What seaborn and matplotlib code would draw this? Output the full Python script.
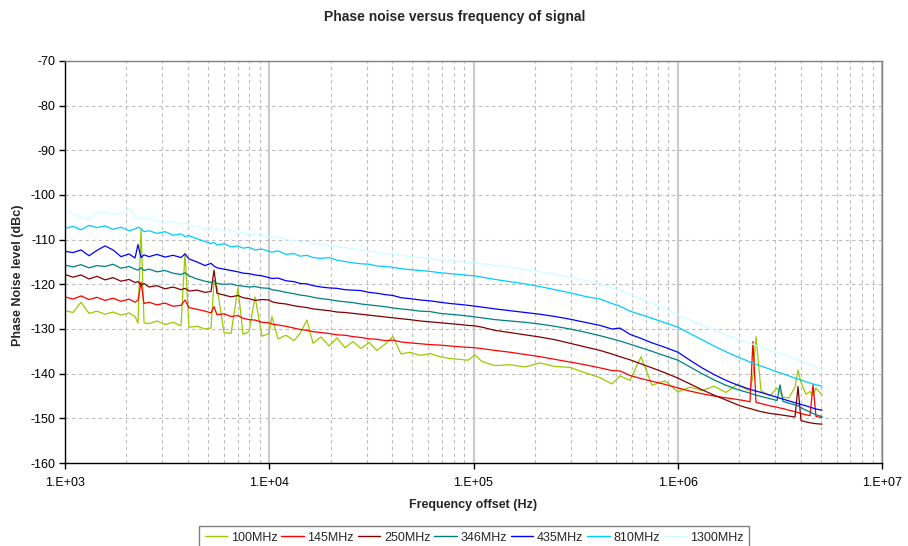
import numpy as np
import pandas as pd
import matplotlib
matplotlib.use("Agg")
import matplotlib.pyplot as plt
from matplotlib.ticker import LogLocator, FuncFormatter
import seaborn as sns

# ---------------- data ----------------
FREQ_HZ = [
    1000, 1094, 1198, 1311, 1434, 1570, 1718, 1880, 2058, 2202,
    2277, 2356, 2437, 2578, 2821, 3088, 3380, 3698, 3868, 4046,
    4430, 4847, 5186, 5364, 5548, 6003, 6496, 7031, 7437, 7960,
    8518, 9215, 9972, 10310, 11040, 12080, 13220, 14140, 15300, 16380,
    17920, 19610, 21460, 23490, 25700, 28130, 30780, 33690, 36870, 40350,
    44160, 48880, 54710, 61240, 68550, 76720, 85870, 93990, 101700, 110100,
    127400, 150900, 178700, 211700, 250600, 296900, 351600, 416400, 476500, 521600,
    583900, 660800, 747900, 866200, 1002800, 1148000, 1315000, 1505000, 1723000, 1972000,
    2159000, 2258000, 2335000, 2416000, 2556000, 2829000, 3062000, 3167000, 3276000, 3505000,
    3750000, 3879000, 4013000, 4245000, 4442000, 4594000, 4752000, 5085000,
]

SERIES = ["100MHz", "145MHz", "250MHz", "346MHz", "435MHz", "810MHz", "1300MHz"]
COLORS = ["#99CC00", "#FF0000", "#800000", "#008080", "#0000FF", "#00CCFF", "#CCFFFF"]

PN_100MHZ = [
    -125.9, -126.3, -124.0, -126.5, -126.0, -126.7, -126.2, -126.9, -126.4, -127.2,
    -128.7, -107.5, -128.6, -128.8, -128.2, -129.0, -128.5, -129.3, -113.0, -129.6,
    -129.4, -130.0, -129.8, -119.4, -120.5, -130.8, -131.0, -120.8, -131.2, -130.6,
    -122.8, -131.6, -131.0, -127.2, -132.2, -131.4, -132.6, -131.0, -128.0, -133.2,
    -131.8, -133.8, -132.0, -134.2, -132.8, -134.4, -133.0, -134.8, -133.4, -131.7,
    -135.6, -135.2, -135.9, -135.5, -136.2, -136.6, -136.8, -137.0, -135.8, -137.3,
    -138.2, -138.0, -138.5, -137.6, -138.4, -138.6, -139.8, -140.9, -142.3, -140.5,
    -141.5, -136.2, -142.6, -141.6, -144.1, -143.0, -143.8, -142.8, -144.2, -142.3,
    -143.5, -143.8, -140.5, -131.7, -143.8, -145.0, -143.2, -144.0, -145.3, -145.4,
    -143.0, -139.2, -142.0, -144.6, -144.0, -145.0, -143.2, -144.8,
]
PN_145MHZ = [
    -122.8, -123.3, -122.6, -123.4, -122.9, -123.6, -123.1, -123.8, -123.3, -124.0,
    -123.6, -119.5, -124.3, -124.0, -124.6, -124.2, -124.9, -124.7, -123.5, -125.2,
    -125.6, -126.0, -126.4, -125.0, -126.8, -126.6, -127.2, -127.0, -127.6, -127.9,
    -128.0, -128.5, -128.6, -128.9, -129.1, -129.4, -129.8, -130.1, -130.3, -130.6,
    -130.8, -131.0, -131.3, -131.4, -131.7, -131.9, -132.2, -132.3, -132.6, -132.5,
    -132.9, -133.1, -133.3, -133.5, -133.6, -133.8, -134.0, -134.1, -134.2, -134.4,
    -134.8, -135.2, -135.7, -136.2, -136.8, -137.4, -138.0, -138.7, -139.3, -139.4,
    -140.4, -141.1, -141.7, -142.4, -143.2, -143.9, -144.5, -145.0, -145.4, -145.8,
    -146.1, -146.3, -132.8, -146.4, -146.7, -147.2, -147.5, -147.7, -147.8, -148.2,
    -148.5, -148.7, -148.9, -149.2, -149.4, -142.5, -149.6, -149.8,
]
PN_250MHZ = [
    -117.8, -118.4, -117.9, -118.8, -118.2, -119.0, -118.5, -119.3, -118.9, -119.6,
    -119.4, -120.2, -119.8, -120.6, -120.3, -121.0, -120.6, -121.2, -120.9, -121.5,
    -121.3, -121.8, -121.6, -116.8, -122.0, -122.4, -122.8, -122.5, -123.0, -123.2,
    -123.6, -123.4, -123.5, -123.9, -124.2, -124.4, -124.8, -125.0, -125.2, -125.5,
    -125.7, -125.9, -126.2, -126.3, -126.5, -126.7, -126.9, -127.1, -127.3, -127.5,
    -127.7, -127.9, -128.2, -128.4, -128.6, -128.8, -129.0, -129.2, -129.3, -129.6,
    -130.3, -130.8, -131.3, -131.8, -132.4, -133.2, -134.0, -134.8, -135.6, -136.2,
    -136.9, -137.8, -138.7, -139.8, -141.0, -142.3, -143.6, -144.8, -145.9, -147.0,
    -147.6, -147.8, -148.0, -148.2, -148.5, -148.9, -149.1, -149.2, -149.3, -149.5,
    -149.7, -142.9, -150.5, -150.8, -151.0, -151.1, -151.2, -151.3,
]
PN_346MHZ = [
    -115.7, -116.1, -115.6, -116.3, -115.8, -116.0, -115.5, -116.4, -116.0, -116.6,
    -116.8, -116.3, -116.9, -116.6, -117.2, -116.9, -117.5, -117.8, -117.4, -118.1,
    -118.8, -119.3, -119.6, -119.2, -119.8, -120.0, -119.9, -120.3, -120.4, -120.6,
    -120.5, -120.8, -120.9, -121.2, -121.4, -121.8, -122.1, -122.4, -122.6, -122.9,
    -123.2, -123.4, -123.7, -123.9, -124.1, -124.4, -124.6, -124.8, -125.0, -125.3,
    -125.5, -125.7, -126.0, -126.1, -126.5, -126.7, -126.9, -127.1, -127.3, -127.5,
    -127.9, -128.2, -128.5, -128.9, -129.4, -130.0, -130.7, -131.5, -132.2, -132.7,
    -133.4, -134.2, -135.0, -136.0, -137.0, -138.5, -140.0, -141.4, -142.6, -143.6,
    -144.1, -144.4, -144.6, -144.8, -145.1, -145.6, -146.0, -142.5, -146.2, -146.6,
    -147.0, -147.2, -147.6, -148.2, -148.6, -148.9, -149.2, -149.6,
]
PN_435MHZ = [
    -112.6, -112.9, -112.3, -113.6, -112.4, -111.4, -112.3, -113.8, -113.2, -114.1,
    -111.1, -114.0, -113.4, -113.8, -113.3, -113.9, -113.5, -114.0, -113.2, -114.3,
    -115.0, -115.8, -115.3, -115.9, -116.3, -116.6, -116.9, -117.2, -117.5, -117.6,
    -117.9, -118.1, -118.5, -118.7, -118.6, -119.2, -119.4, -119.8, -119.9, -120.3,
    -120.6, -120.8, -120.9, -121.2, -121.3, -121.4, -121.8, -122.0, -122.3, -122.5,
    -123.0, -123.2, -123.5, -123.7, -124.0, -124.3, -124.5, -124.7, -124.9, -125.1,
    -125.5, -125.9, -126.3, -126.7, -127.2, -127.8, -128.5, -129.2, -130.0, -129.8,
    -131.2, -132.1, -133.1, -134.1, -135.2, -137.0, -138.7, -140.2, -141.5, -142.6,
    -143.2, -143.5, -143.7, -143.9, -144.2, -144.8, -145.3, -145.5, -145.7, -146.1,
    -146.5, -146.7, -146.9, -147.2, -147.5, -147.7, -147.9, -148.2,
]
PN_810MHZ = [
    -107.5, -107.0, -107.8, -106.8, -107.3, -106.9, -107.7, -107.2, -108.0, -107.6,
    -107.2, -107.5, -108.2, -108.0, -108.6, -108.2, -109.0, -108.7, -109.3, -109.1,
    -109.8, -110.4, -110.9, -110.6, -111.2, -110.9, -111.6, -111.4, -111.9, -111.7,
    -112.3, -112.1, -112.6, -112.8, -112.5, -113.3, -113.1, -113.7, -113.5, -114.0,
    -114.2, -114.0, -114.6, -114.9, -115.2, -115.4, -115.5, -115.9, -116.0, -116.2,
    -116.5, -116.7, -116.9, -117.1, -117.4, -117.6, -117.8, -118.0, -118.1, -118.4,
    -118.9, -119.4, -119.9, -120.5, -121.2, -121.9, -122.7, -123.3, -124.3, -124.9,
    -126.0, -126.8, -127.6, -128.6, -129.6, -131.0, -132.4, -133.8, -135.1, -136.3,
    -137.0, -137.4, -137.6, -137.9, -138.3, -139.0, -139.6, -139.8, -140.0, -140.5,
    -141.0, -141.2, -141.4, -141.8, -142.1, -142.3, -142.5, -142.8,
]
PN_1300MHZ = [
    -103.4, -104.2, -105.0, -105.5, -104.0, -103.8, -104.4, -104.1, -103.0, -104.8,
    -105.4, -105.0, -105.6, -105.2, -105.8, -106.3, -105.9, -106.6, -106.2, -106.8,
    -107.0, -107.6, -107.3, -107.9, -107.5, -108.1, -107.8, -108.6, -108.3, -108.9,
    -108.7, -109.2, -109.3, -109.6, -109.4, -110.0, -110.2, -110.5, -110.4, -110.9,
    -111.0, -111.3, -111.6, -111.8, -112.0, -112.3, -112.6, -112.8, -113.1, -113.3,
    -113.5, -113.8, -114.0, -114.3, -114.5, -114.7, -114.9, -115.1, -115.2, -115.4,
    -115.8, -116.2, -116.7, -117.2, -117.8, -118.4, -119.1, -119.9, -120.8, -121.4,
    -122.2, -123.2, -124.2, -125.5, -126.8, -128.0, -129.1, -130.2, -131.3, -132.3,
    -132.9, -133.2, -133.4, -133.7, -134.1, -134.8, -135.3, -135.5, -135.7, -136.2,
    -136.7, -137.0, -137.2, -137.6, -138.0, -138.2, -138.5, -139.0,
]

YTICKS = [-70, -80, -90, -100, -110, -120, -130, -140, -150, -160]
XTICKS = [1e3, 1e4, 1e5, 1e6, 1e7]

VALUES = [PN_100MHZ, PN_145MHZ, PN_250MHZ, PN_346MHZ, PN_435MHZ, PN_810MHZ, PN_1300MHZ]

frames = []
for name, vals in zip(SERIES, VALUES):
    frames.append(pd.DataFrame({"freq": FREQ_HZ, "level": vals, "series": name}))
df = pd.concat(frames, ignore_index=True)

# ---------------- figure ----------------
sns.set_theme(style="white")
plt.rcParams["font.family"] = ["Liberation Sans", "DejaVu Sans"]
plt.rcParams["axes.unicode_minus"] = False

W, H = 908, 546
fig = plt.figure(figsize=(W / 100, H / 100), dpi=100)
ax = fig.add_axes([65 / W, 1 - 463 / H, (882 - 65) / W, (463 - 61) / H])

sns.lineplot(data=df, x="freq", y="level", hue="series", hue_order=SERIES,
             palette=dict(zip(SERIES, COLORS)), sort=False, estimator=None,
             linewidth=0.9, ax=ax, legend=True)

ax.set_xscale("log")
ax.set_xlim(1e3, 1e7)
ax.set_ylim(-160, -70)
ax.set_xticks(XTICKS)
ax.xaxis.set_major_formatter(FuncFormatter(lambda v, p: "1.E+%02d" % int(round(np.log10(v)))))
ax.xaxis.set_minor_locator(LogLocator(base=10, subs=np.arange(2, 10), numticks=20))
ax.xaxis.set_minor_formatter(FuncFormatter(lambda v, p: ""))
ax.set_yticks(YTICKS)
ax.yaxis.set_major_formatter(FuncFormatter(lambda v, p: "%d" % int(round(v))))

ax.grid(False)
ax.xaxis.grid(True, which="major", color="#cccccc", linewidth=1.6, linestyle="-")
ax.xaxis.grid(True, which="minor", color="#bbbbbb", linewidth=0.8, linestyle=(0, (3, 3)))
ax.yaxis.grid(True, which="major", color="#bbbbbb", linewidth=0.8, linestyle=(0, (3, 3)))
ax.set_axisbelow(True)

for s in ["left", "bottom"]:
    ax.spines[s].set_color("black")
    ax.spines[s].set_linewidth(1.0)
for s in ["top", "right"]:
    ax.spines[s].set_color("#808080")
    ax.spines[s].set_linewidth(1.0)

ax.tick_params(axis="both", which="major", direction="out", length=4, width=1,
               color="black", labelsize=9, labelcolor="black", pad=3,
               bottom=True, left=True)
ax.tick_params(axis="x", which="minor", length=0)
ax.tick_params(axis="x", which="major", pad=6)

ax.set_xlabel("Frequency offset (Hz)", fontsize=9, fontweight="bold", labelpad=7)
ax.set_ylabel("")
fig.text(18 / W, 1 - 275 / H, "Phase Noise level (dBc)", rotation=90,
         fontsize=9, fontweight="bold", ha="center", va="center")
fig.text(455 / W, 1 - 17 / H, "Phase noise versus frequency of signal",
         fontsize=10, fontweight="bold", ha="center", va="center")

handles, labels = ax.get_legend_handles_labels()
ax.get_legend().remove()
leg = fig.legend(handles, labels, loc="upper center", bbox_to_anchor=(474 / W, 1 - 526 / H),
                 ncol=7, fontsize=9, frameon=True, fancybox=False, shadow=False,
                 handlelength=1.8, handletextpad=0.3, columnspacing=0.3,
                 borderpad=0.45, borderaxespad=0)
leg.get_frame().set_edgecolor("#606060")
leg.get_frame().set_linewidth(1.0)
leg.get_frame().set_facecolor("white")
for lh in leg.get_lines():
    lh.set_linewidth(1.0)

fig.savefig("out.png", dpi=100)
